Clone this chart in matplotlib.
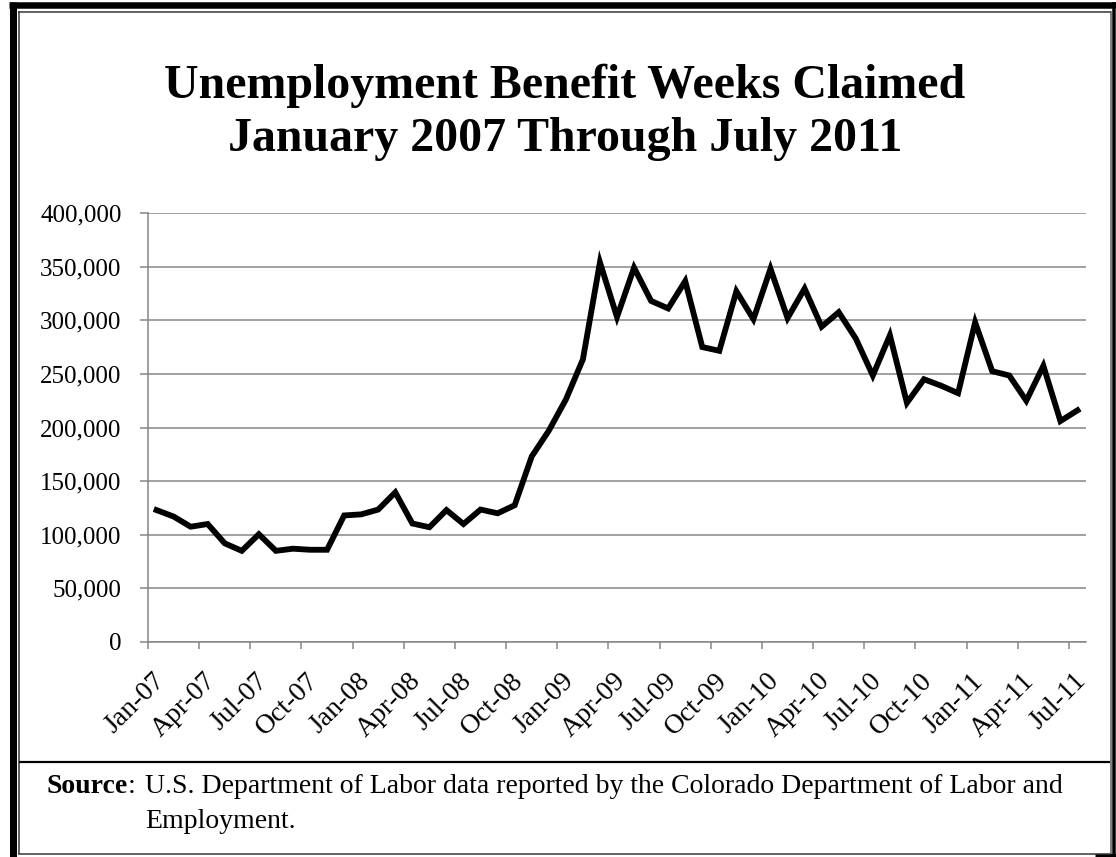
import numpy as np
import matplotlib
matplotlib.use('Agg')
import matplotlib.pyplot as plt
from matplotlib.lines import Line2D
from matplotlib.ticker import FuncFormatter
import matplotlib.transforms as mtransforms

plt.rcParams['font.family'] = ['Liberation Serif', 'DejaVu Serif']

# Weeks claimed, monthly, Jan 2007 - Jul 2011
claims = [123000, 117000, 107500, 110000, 92000, 85000, 100500, 85000, 87000, 86000,
          86000, 118000, 119000, 123500, 139500, 110500, 107000, 123000, 110000, 123500,
          120000, 127500, 173000, 197000, 226000, 263500, 354000, 303000, 349000, 318000,
          311000, 336500, 275000, 271500, 327000, 301000, 348000, 302000, 329500, 294000,
          307500, 283000, 248500, 286000, 223000, 245000, 239000, 232000, 298000, 252500,
          248500, 225000, 257500, 206000, 216000]
tick_labels = ['Jan-07', 'Apr-07', 'Jul-07', 'Oct-07', 'Jan-08', 'Apr-08', 'Jul-08',
               'Oct-08', 'Jan-09', 'Apr-09', 'Jul-09', 'Oct-09', 'Jan-10', 'Apr-10',
               'Jul-10', 'Oct-10', 'Jan-11', 'Apr-11', 'Jul-11']

W, H = 1116, 857
def fx(x):
    return x / W
def fy(y):
    return 1 - y / H

fig = plt.figure(figsize=(W / 100, H / 100), dpi=100)
ax = fig.add_axes([fx(148), fy(642), (1086 - 148) / W, (642 - 213) / H])

gray = '#868686'
months = np.arange(len(claims))
ax.plot(months, claims, color='black', linewidth=4.2, solid_joinstyle='miter', zorder=3)

ax.set_xlim(-0.5, len(claims) - 0.5)
ax.set_ylim(0, 400000)
ax.set_yticks(np.arange(0, 400001, 50000))
ax.yaxis.set_major_formatter(FuncFormatter(lambda v, p: f'{int(v):,}'))
ax.set_xticks(np.arange(len(tick_labels)) * 3 - 0.5)
ax.set_xticklabels(tick_labels, rotation=45, ha='right', va='top')

ax.grid(axis='y', color=gray, linewidth=1.1)
ax.set_axisbelow(True)
for s in ['top', 'right']:
    ax.spines[s].set_visible(False)
for s in ['left', 'bottom']:
    ax.spines[s].set_color(gray)
    ax.spines[s].set_linewidth(1.1)
ax.tick_params(axis='y', colors=gray, labelcolor='black', labelsize=18,
               length=6, width=1.1, pad=13)
ax.tick_params(axis='x', colors=gray, labelcolor='black', labelsize=20,
               length=5, width=1.1, pad=14)
offset = mtransforms.ScaledTranslation(22 / 100, 0, fig.dpi_scale_trans)
for lab in ax.get_xticklabels():
    lab.set_transform(lab.get_transform() + offset)

# titles
fig.text(fx(565), fy(98), 'Unemployment Benefit Weeks Claimed', ha='center', va='baseline',
         fontsize=34.5, fontweight='bold')
fig.text(fx(565), fy(151), 'January 2007 Through July 2011', ha='center', va='baseline',
         fontsize=34.5, fontweight='bold')

# source note
src = fig.text(fx(47), fy(793), 'Source', ha='left', va='baseline', fontsize=20,
               fontweight='bold')
fig.canvas.draw()
bb = src.get_window_extent()
fig.text(bb.x1 / W, fy(793), ':', ha='left', va='baseline', fontsize=20)
fig.text(fx(145), fy(793), 'U.S. Department of Labor data reported by the Colorado Department of Labor and',
         ha='left', va='baseline', fontsize=20)
fig.text(fx(145), fy(828), 'Employment.', ha='left', va='baseline', fontsize=20)

# frame
def hline(y, x0, x1, lw, c='black'):
    fig.add_artist(Line2D([fx(x0), fx(x1)], [fy(y), fy(y)], transform=fig.transFigure,
                          color=c, linewidth=lw * 0.72, solid_capstyle='butt'))
def vline(x, y0, y1, lw, c='black'):
    fig.add_artist(Line2D([fx(x), fx(x)], [fy(y0), fy(y1)], transform=fig.transFigure,
                          color=c, linewidth=lw * 0.72, solid_capstyle='butt'))

hline(5, 9, 1116, 6.5)
vline(12.5, 2, 857, 7)
vline(1113.5, 2, 857, 3.5)
hline(855, 1095, 1116, 3)
# inner thin rectangle
hline(11.5, 18, 1111, 1.5, '#333333')
hline(853.5, 18, 1111, 1.5, '#333333')
vline(19, 11, 854, 1.5, '#333333')
vline(1110.5, 11, 854, 1.5, '#555555')
# separator above source
hline(762, 19, 1110, 2.2)

fig.savefig('out.png', dpi=100)
